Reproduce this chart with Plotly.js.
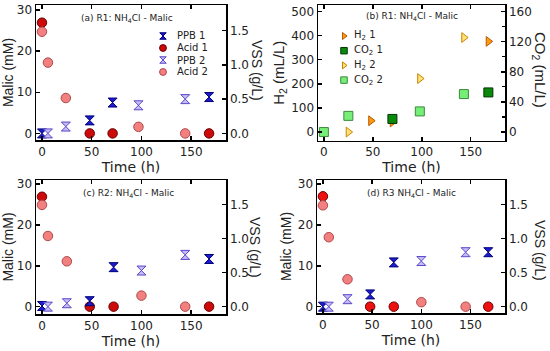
<!DOCTYPE html>
<html><head><meta charset="utf-8">
<script src="https://cdn.plot.ly/plotly-3.0.1.min.js"></script>
<style>html,body{margin:0;padding:0;background:#fff}#chart{width:550px;height:351px}</style>
</head><body><div id="chart"></div>
<script>
// ---------------- data ----------------
// (a) R1: NH4Cl - Malic  (Acid in mM on left axis, PPB as VSS g/L on right axis)
const a_t_ppb1 = [0, 48, 71, 168];      const a_ppb1 = [0.0, 0.19, 0.45, 0.53];
const a_t_acid1 = [0, 48, 71, 168];     const a_acid1 = [26.9, 0, 0, 0];
const a_t_ppb2 = [6, 24, 97, 144];      const a_ppb2 = [0.0, 0.10, 0.41, 0.50];
const a_t_acid2 = [0, 6, 24, 97, 144];  const a_acid2 = [24.7, 17.2, 8.6, 1.6, 0];
// (b) R1: NH4Cl - Malic  (H2 mL/L left axis, CO2 mL/L right axis)
const b_t_h2_1 = [48, 70, 168];         const b_h2_1 = [47, 42, 376];
const b_t_co2_1 = [70, 168];            const b_co2_1 = [17.4, 52.6];
const b_t_h2_2 = [25, 98, 143];         const b_h2_2 = [0, 222, 392];
const b_t_co2_2 = [0, 25, 98, 143];     const b_co2_2 = [0, 21.5, 27.4, 50.4];
// (c) R2: NH4Cl - Malic
const c_t_ppb1 = [0, 48, 72, 168];      const c_ppb1 = [0.01, 0.08, 0.58, 0.70];
const c_t_acid1 = [0, 48, 72, 168];     const c_acid1 = [26.9, 0, 0, 0];
const c_t_ppb2 = [6, 25, 100, 144];     const c_ppb2 = [0.0, 0.05, 0.53, 0.76];
const c_t_acid2 = [0, 6, 25, 100, 144]; const c_acid2 = [24.9, 17.3, 11.1, 2.7, 0];
// (d) R3 NH4Cl - Malic
const d_t_ppb1 = [0, 48, 72, 168];      const d_ppb1 = [0.0, 0.18, 0.65, 0.80];
const d_t_acid1 = [0, 48, 72, 168];     const d_acid1 = [27.0, 0, 0, 0];
const d_t_ppb2 = [6, 25, 100, 145];     const d_ppb2 = [0.0, 0.11, 0.67, 0.80];
const d_t_acid2 = [0, 6, 25, 100, 145]; const d_acid2 = [24.8, 17.0, 6.7, 1.1, 0];

const legendA = ['PPB 1', 'Acid 1', 'PPB 2', 'Acid 2'];
const legendB = ['H<sub>2</sub> 1', 'CO<sub>2</sub> 1', 'H<sub>2</sub> 2', 'CO<sub>2</sub> 2'];
const xTicks = [0, 50, 100, 150];

// ---------------- styles ----------------
const W = 550, H = 351;
const TXT = '#222';
const FH = 'DejaVu Sans';
const FV = 'Liberation Sans, Arial, sans-serif';
const st = {
  ppb1: {symbol: 'hourglass', size: 9, color: '#1c1ccc', line: {color: '#00007a', width: 1}},
  ppb2: {symbol: 'hourglass', size: 9, color: '#c4bcf4', line: {color: '#5a48c8', width: 1}},
  acid1: {symbol: 'circle', size: 9.5, color: '#cc0a0a', line: {color: '#6a0000', width: 1}},
  acid1d: {symbol: 'circle', size: 9.5, color: '#ee1111', line: {color: '#6a0000', width: 1}},
  acid2: {symbol: 'circle', size: 9.5, color: '#f28080', line: {color: '#b04848', width: 1}},
  h21: {symbol: 'triangle-right', size: 8.5, color: '#ff9911', line: {color: '#b85800', width: 1}},
  h22: {symbol: 'triangle-right', size: 8.5, color: '#ffe27a', line: {color: '#c88400', width: 1}},
  co21: {symbol: 'square', size: 9, color: '#0a8a0a', line: {color: '#033303', width: 1}},
  co22: {symbol: 'square', size: 9, color: '#77ee77', line: {color: '#3a8a3a', width: 1}}
};
function tr(x, y, m, xa, ya, name) {
  return {type: 'scatter', mode: 'markers', x: x, y: y, name: name, marker: m,
          xaxis: xa, yaxis: ya, showlegend: false, cliponaxis: false, hoverinfo: 'x+y'};
}
const data = [
  tr(a_t_ppb1, a_ppb1, st.ppb1, 'x', 'y2', 'PPB 1'),
  tr(a_t_acid1, a_acid1, st.acid1, 'x', 'y', 'Acid 1'),
  tr(a_t_ppb2, a_ppb2, st.ppb2, 'x', 'y2', 'PPB 2'),
  tr(a_t_acid2, a_acid2, st.acid2, 'x', 'y', 'Acid 2'),

  tr(b_t_h2_1, b_h2_1, st.h21, 'x2', 'y3', 'H2 1'),
  tr(b_t_co2_1, b_co2_1, st.co21, 'x2', 'y4', 'CO2 1'),
  tr(b_t_h2_2, b_h2_2, st.h22, 'x2', 'y3', 'H2 2'),
  tr(b_t_co2_2, b_co2_2, st.co22, 'x2', 'y4', 'CO2 2'),

  tr(c_t_ppb1, c_ppb1, st.ppb1, 'x3', 'y6', 'PPB 1'),
  tr(c_t_acid1, c_acid1, st.acid1, 'x3', 'y5', 'Acid 1'),
  tr(c_t_ppb2, c_ppb2, st.ppb2, 'x3', 'y6', 'PPB 2'),
  tr(c_t_acid2, c_acid2, st.acid2, 'x3', 'y5', 'Acid 2'),

  tr(d_t_ppb1, d_ppb1, st.ppb1, 'x4', 'y8', 'PPB 1'),
  tr(d_t_acid1, d_acid1, st.acid1d, 'x4', 'y7', 'Acid 1'),
  tr(d_t_ppb2, d_ppb2, st.ppb2, 'x4', 'y8', 'PPB 2'),
  tr(d_t_acid2, d_acid2, st.acid2, 'x4', 'y7', 'Acid 2')
];

// custom compact legends (pixel layout on a full-canvas helper axis)
const legA = {mx: 163, tx: 175, y0: 36, dy: 12, size: 0.72, styles: [st.ppb1, st.acid1, st.ppb2, st.acid2], labels: legendA};
const legB = {mx: 344, tx: 352, y0: 36, dy: 14.7, size: 0.72, styles: [st.h21, st.co21, st.h22, st.co22], labels: legendB};
const annotations = [];
[legA, legB].forEach(function (L) {
  L.labels.forEach(function (lab, i) {
    const s = L.styles[i];
    const yy = L.y0 + i * L.dy;
    data.push({type: 'scatter', mode: 'markers', x: [L.mx], y: [yy], xaxis: 'x5', yaxis: 'y9',
      showlegend: false, hoverinfo: 'skip', cliponaxis: false,
      marker: {symbol: s.symbol, size: s.size * L.size, color: s.color, line: s.line}});
    annotations.push({xref: 'paper', yref: 'paper', x: L.tx / W, y: 1 - yy / H, xanchor: 'left', yanchor: 'middle',
      text: lab, showarrow: false, font: {family: FH, size: 10, color: TXT}});
  });
});

function note(text, px, py, opts) {
  annotations.push(Object.assign({xref: 'paper', yref: 'paper', x: px / W, y: 1 - py / H,
    xanchor: 'center', yanchor: 'middle', text: text, showarrow: false,
    font: {family: FH, size: 9, color: TXT}}, opts || {}));
}
note('(a) R1: NH<sub>4</sub>Cl - Malic', 127, 19);
note('(b) R1: NH<sub>4</sub>Cl - Malic', 412, 16);
note('(c) R2: NH<sub>4</sub>Cl - Malic', 128, 193);
note('(d) R3 NH<sub>4</sub>Cl - Malic', 411, 193);
const rt = {textangle: 90, font: {family: FV, size: 14, color: TXT}};
note('VSS (g/L)', 257, 70, rt);
note('CO<sub>2</sub> (mL/L)', 540, 70, Object.assign({}, rt, {font: {family: FV, size: 15, color: TXT}}));
note('VSS (g/L)', 255, 247, rt);
note('VSS (g/L)', 540, 250, rt);

// ---------------- axes ----------------
const tickF = {family: FH, size: 12, color: TXT};
function dom(a, b, horiz) { return horiz ? [a / W, b / W] : [1 - b / H, 1 - a / H]; }
function xax(d, anchor) {
  return {domain: dom(d[0], d[1], true), anchor: anchor, range: [-6, 185], tickvals: xTicks,
    showline: true, linecolor: '#000', linewidth: 1.5, mirror: 'ticks', ticks: 'inside', ticklen: 4,
    tickwidth: 1.5, tickcolor: '#000', showgrid: false, zeroline: false, tickfont: tickF,
    title: {text: 'Time (h)', font: {family: FH, size: 14, color: TXT}, standoff: 0}};
}
function yl(d, anchor, range, dtick, title, fs) {
  return {domain: dom(d[0], d[1], false), anchor: anchor, range: range, dtick: dtick, tick0: 0,
    showline: true, linecolor: '#000', linewidth: 1.5, ticks: 'inside', ticklen: 4, tickwidth: 1.5,
    tickcolor: '#000', showgrid: false, zeroline: false, tickfont: tickF,
    title: {text: title, font: {family: FV, size: fs || 14, color: TXT}, standoff: 3}};
}
function yr(over, anchor, range, dtick, fmt, minor) {
  const o = {overlaying: over, side: 'right', anchor: anchor, range: range, dtick: dtick, tick0: 0,
    tickformat: fmt, showline: true, linecolor: '#000', linewidth: 1.5, ticks: 'inside', ticklen: 4,
    tickwidth: 1.5, tickcolor: '#000', showgrid: false, zeroline: false, tickfont: tickF};
  if (minor) o.minor = {dtick: minor, ticks: 'inside', ticklen: 3, tickwidth: 1.2, tickcolor: '#000', showgrid: false};
  return o;
}
const mA = [-1.6, 31.2], mC = [-1.8, 31.0], mD = [-1.55, 31.0];
const sc = 0.06;
const hB = [-35, 527];
const layout = {
  width: W, height: H, margin: {l: 0, r: 0, t: 0, b: 0},
  paper_bgcolor: '#fff', plot_bgcolor: 'rgba(0,0,0,0)', showlegend: false,
  font: {family: FH, color: TXT},
  xaxis: xax([36, 226], 'y'),
  yaxis: yl([5, 140], 'x', mA, 10, 'Malic (mM)'),
  yaxis2: yr('y', 'x', [mA[0] * sc, mA[1] * sc], 0.5, '.1f'),
  xaxis2: xax([318, 505], 'y3'),
  yaxis3: yl([5, 140.5], 'x2', hB, 100, 'H<sub>2</sub> (mL/L)', 15),
  yaxis4: yr('y3', 'x2', [hB[0] * 0.32, hB[1] * 0.32], 40, '', 20),
  xaxis3: xax([36, 226], 'y5'),
  yaxis5: yl([180, 314], 'x3', mC, 10, 'Malic (mM)'),
  yaxis6: yr('y5', 'x3', [mC[0] * sc, mC[1] * sc], 0.5, '.1f'),
  xaxis4: xax([317, 505], 'y7'),
  yaxis7: yl([180, 313], 'x4', mD, 10, 'Malic (mM)'),
  yaxis8: yr('y7', 'x4', [mD[0] * sc, mD[1] * sc], 0.5, '.1f'),
  xaxis5: {domain: [0, 1], anchor: 'y9', range: [0, W], visible: false, fixedrange: true},
  yaxis9: {domain: [0, 1], anchor: 'x5', range: [H, 0], visible: false, fixedrange: true},
  annotations: annotations
};
Plotly.newPlot('chart', data, layout, {staticPlot: true, displayModeBar: false});
</script>
</body></html>
